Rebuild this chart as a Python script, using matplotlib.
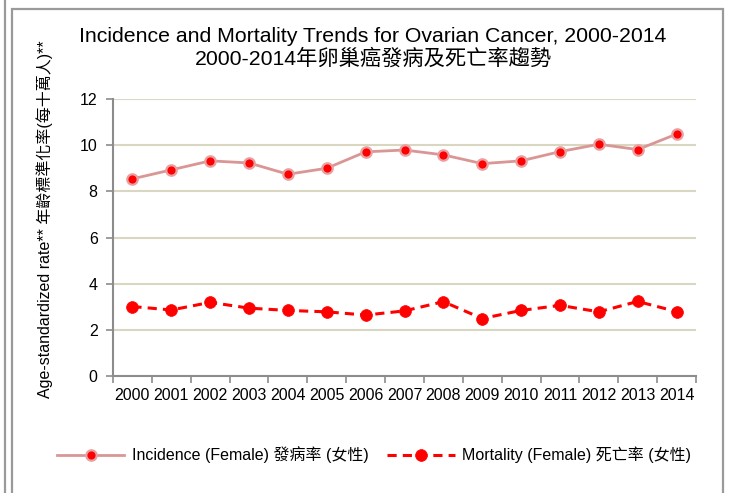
import matplotlib
matplotlib.use("Agg")
import matplotlib.pyplot as plt
from matplotlib.lines import Line2D
from matplotlib.patches import Rectangle

plt.rcParams['font.family'] = ['Liberation Sans', 'Noto Sans CJK TC', 'DejaVu Sans']

years = ["2000", "2001", "2002", "2003", "2004", "2005", "2006", "2007",
         "2008", "2009", "2010", "2011", "2012", "2013", "2014"]
incidence = [8.54, 8.93, 9.32, 9.23, 8.74, 9.00, 9.71, 9.79,
             9.58, 9.20, 9.32, 9.72, 10.04, 9.81, 10.48]
mortality = [3.01, 2.86, 3.19, 2.94, 2.84, 2.78, 2.64, 2.82,
             3.22, 2.49, 2.84, 3.06, 2.78, 3.23, 2.79]
yticks = [0, 2, 4, 6, 8, 10, 12]

title = "Incidence and Mortality Trends for Ovarian Cancer, 2000-2014\n2000-2014年卵巢癌發病及死亡率趨勢"
ylabel = "Age-standardized rate** 年齡標準化率(每十萬人)**"
lab_inc = "Incidence (Female) 發病率 (女性)"
lab_mor = "Mortality (Female) 死亡率 (女性)"

W, H = 732, 493
fig = plt.figure(figsize=(W / 100, H / 100), dpi=100)

# frame lines
fig.add_artist(Line2D([4.5 / W, 4.5 / W], [0, 1], color='#9a9a9a', lw=1.6, transform=fig.transFigure))
fig.add_artist(Rectangle((11.5 / W, -0.05), (723 - 11.5) / W, 1.05 - 9 / H,
                         fill=False, ec='#9a9a9a', lw=1.6, transform=fig.transFigure))

ax = fig.add_axes([113 / W, (H - 376) / H, (696 - 113) / W, (376 - 99) / H])
x = list(range(len(years)))

inc_color = '#d99694'
ax.plot(x, incidence, color=inc_color, lw=2.0, marker='o', markersize=7.5,
        markerfacecolor='#ff0000', markeredgecolor='#e8a0a0', markeredgewidth=1.6,
        label=lab_inc, zorder=3)
ax.plot(x, mortality, color='#ff0000', lw=2.2, ls=(0, (3, 2)), marker='o', markersize=8.5,
        markerfacecolor='#ff0000', markeredgecolor='#ff0000', markeredgewidth=0.5,
        label=lab_mor, zorder=3)

ax.set_xlim(-0.5, len(years) - 0.5)
ax.set_ylim(0, 12)
ax.set_yticks(yticks)
ax.set_yticklabels([str(v) for v in yticks])
ax.set_xticks(x)
ax.set_xticklabels(years)
ax.set_xticks([i - 0.5 for i in range(len(years) + 1)], minor=True)
ax.tick_params(axis='x', which='major', length=0, labelsize=11.5, pad=9)
ax.tick_params(axis='x', which='minor', length=5, color='#8c8c8c', width=1.2)
ax.tick_params(axis='y', length=5, color='#8c8c8c', width=1.2, labelsize=11.5, pad=6)

for s in ['top', 'right']:
    ax.spines[s].set_visible(False)
for s in ['left', 'bottom']:
    ax.spines[s].set_color('#8c8c8c')
    ax.spines[s].set_linewidth(1.5)

ax.grid(axis='y', color='#d9d6c2', lw=1.5)
ax.set_axisbelow(True)

fig.text(373 / W, (H - 48) / H, title, ha='center', va='center',
         fontsize=15.3, linespacing=1.15, color='#000000')

fig.text(45 / W, (H - 219) / H, ylabel, rotation=90, ha='center', va='center',
         fontsize=11.5, color='#000000')

fig.legend(loc='center', bbox_to_anchor=(374 / W, (H - 455) / H), ncol=2, frameon=False,
           fontsize=11.5, handlelength=4.2, columnspacing=1.2, handletextpad=0.45)

fig.savefig("out.png", dpi=100)
